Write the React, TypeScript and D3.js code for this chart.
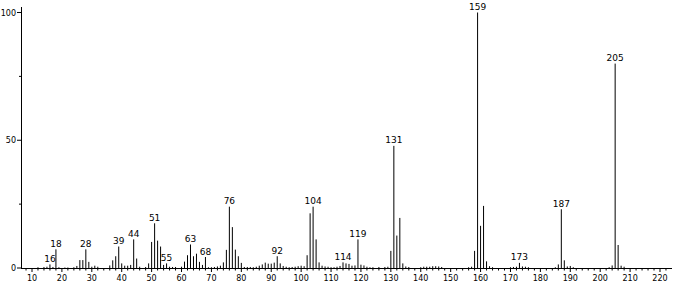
import React from "react";
import * as d3 from "d3";

const mzValues = [12,14,15,16,17,18,19,21,22,24,25,26,27,28,29,30,31,32,36,37,38,39,40,41,42,43,44,45,46,48,49,50,51,52,53,54,55,56,57,58,60,61,62,63,64,65,66,67,68,69,70,71,72,73,74,75,76,77,78,79,80,81,82,83,84,85,86,87,88,89,90,91,92,93,94,95,96,97,98,99,100,101,102,103,104,105,106,107,108,109,110,111,112,113,114,115,116,117,118,119,120,121,122,123,124,126,128,129,130,131,132,133,134,135,136,140,141,142,143,144,145,146,147,156,157,158,159,160,161,162,163,164,170,171,172,173,174,175,176,185,186,187,188,189,190,191,203,204,205,206,207,208];
const intensities = [0.3,0.4,0.5,1.4,0.4,7.3,0.3,0.2,0.2,0.3,0.8,3.1,3.1,7.3,2.4,0.5,0.9,0.5,1.0,3.0,4.6,8.4,1.8,0.9,0.9,1.2,11.2,3.7,0.5,0.4,1.8,10.2,17.5,10.7,8.4,1.2,1.8,0.5,0.4,0.4,0.5,2.5,5.0,9.2,4.6,5.6,2.4,1.2,4.3,0.3,0.3,0.4,0.6,0.9,2.2,7.1,24.0,16.0,7.2,4.6,2.0,0.4,0.4,0.4,0.3,0.5,0.9,1.4,2.1,1.7,1.7,2.1,4.6,1.8,0.8,0.5,0.3,0.4,0.5,0.7,0.9,0.7,5.0,21.4,24.0,11.2,2.2,0.9,0.6,0.5,0.3,0.3,0.5,0.8,2.2,1.8,1.6,0.9,1.0,11.2,1.3,1.0,0.5,0.3,0.3,0.4,0.4,0.5,6.7,47.8,12.7,19.6,1.8,0.6,0.4,0.3,0.5,0.5,0.5,0.7,0.7,0.6,0.4,0.3,0.5,6.7,100,16.5,24.3,2.6,0.7,0.3,0.3,0.4,0.5,2.0,0.6,0.5,0.3,0.3,1.4,23.0,3.0,0.6,0.8,0.3,0.3,1.0,80,9.0,0.9,0.5];
const labeledPeaks = [16,18,28,39,44,51,55,63,68,76,92,104,114,119,131,159,173,187,205];
const xTickValues = [10,20,30,40,50,60,70,80,90,100,110,120,130,140,150,160,170,180,190,200,210,220];
const yTickValues = [0,50,100];
const yMinorTicks = [25,75];

export default function App() {
  const W = 673, H = 285;
  const x = d3.scaleLinear().domain([10, 220]).range([32, 660]);
  const y = d3.scaleLinear().domain([0, 100]).range([268, 12.5]);
  const minorX = d3.range(8, 223, 2).filter((v) => v % 10 !== 0);
  const peaks = mzValues.map((m, i) => ({ m, v: intensities[i] }));
  const font = "DejaVu Sans, sans-serif";
  return (
    <svg width={W} height={H} style={{ position: "absolute", left: 0, top: 0, background: "#fff" }}>
      {/* axes */}
      <line x1={21.5} x2={21.5} y1={7} y2={268.5} stroke="#000" strokeWidth={1} />
      <line x1={21} x2={672} y1={268.5} y2={268.5} stroke="#000" strokeWidth={1} />
      {yTickValues.map((t) => (
        <g key={"yt" + t}>
          <line x1={17} x2={21} y1={y(t)} y2={y(t)} stroke="#000" />
          <text x={16} y={y(t) + 3} fontSize={8} fontFamily={font} textAnchor="end" fill="#000">{t}</text>
        </g>
      ))}
      {yMinorTicks.map((t) => (
        <line key={"ym" + t} x1={19} x2={21} y1={y(t)} y2={y(t)} stroke="#000" />
      ))}
      {xTickValues.map((t) => (
        <g key={"xt" + t}>
          <line x1={x(t)} x2={x(t)} y1={268} y2={272} stroke="#000" />
          <text x={x(t)} y={281} fontSize={8} fontFamily={font} textAnchor="middle" fill="#000">{t}</text>
        </g>
      ))}
      {minorX.map((t) => (
        <line key={"xm" + t} x1={x(t)} x2={x(t)} y1={268} y2={270.5} stroke="#000" />
      ))}
      {/* peaks */}
      {peaks.map((p) => (
        <line key={"p" + p.m} x1={x(p.m)} x2={x(p.m)} y1={y(0)} y2={y(p.v)} stroke="#000" strokeWidth={1} />
      ))}
      {peaks.filter((p) => labeledPeaks.includes(p.m)).map((p) => (
        <text key={"l" + p.m} x={x(p.m)} y={y(p.v) - 2.5} fontSize={9} fontFamily={font} textAnchor="middle" fill="#000">{p.m}</text>
      ))}
    </svg>
  );
}
